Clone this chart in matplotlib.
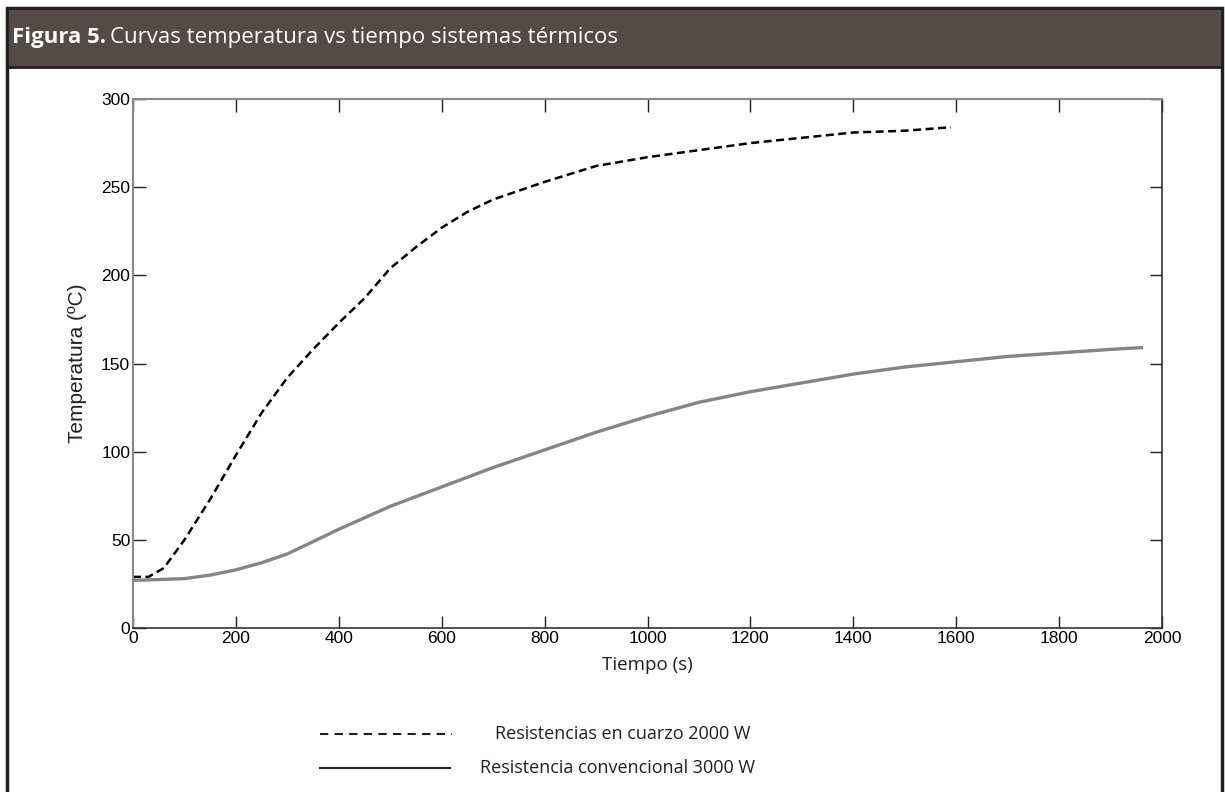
import matplotlib.pyplot as plt
from matplotlib.patches import Rectangle
from matplotlib.lines import Line2D

# curva resistencias en cuarzo (discontinua)
t_cuarzo = [0, 30, 60, 100, 150, 200, 250, 300, 350, 400, 450, 500, 550, 600, 650, 700,
            800, 900, 1000, 1100, 1200, 1300, 1400, 1500, 1590]
T_cuarzo = [29, 29, 34, 50, 73, 98, 122, 142, 158, 173, 187, 204, 216, 227, 236, 243,
            253, 262, 267, 271, 275, 278, 281, 282, 284]

# curva resistencia convencional (continua, gris)
t_conv = [0, 100, 150, 200, 250, 300, 400, 500, 600, 700, 800, 900, 1000, 1100, 1200,
          1300, 1400, 1500, 1600, 1700, 1800, 1900, 1960]
T_conv = [27, 28, 30, 33, 37, 42, 56, 69, 80, 91, 101, 111, 120, 128, 134,
          139, 144, 148, 151, 154, 156, 158, 159]

W, H = 1225, 792
fig = plt.figure(figsize=(W / 100, H / 100), dpi=100)
fig.patch.set_facecolor('white')

def fx(px):
    return px / W

def fy(py):
    return 1 - py / H

# marco y cabecera
fig.add_artist(Rectangle((fx(7), fy(H + 5)), fx(1222) - fx(7), fy(8) - fy(H + 5),
                         transform=fig.transFigure, facecolor='none',
                         edgecolor='#231f20', linewidth=2.5))
fig.add_artist(Rectangle((fx(7), fy(67)), fx(1222) - fx(7), fy(8) - fy(67),
                         transform=fig.transFigure, facecolor='#544a46',
                         edgecolor='#231f20', linewidth=2))
t1 = fig.text(fx(12), fy(37), 'Figura 5.', color='white', fontsize=16, fontweight='bold',
              family='Open Sans', va='center', ha='left')
r = fig.canvas.get_renderer()
x_end = t1.get_window_extent(r).x1
fig.text(fx(x_end + 4), fy(37), 'Curvas temperatura vs tiempo sistemas térmicos',
         color='white', fontsize=16, family='Open Sans', va='center', ha='left')

ax = fig.add_axes([fx(133), fy(628), fx(1162) - fx(133), fy(99) - fy(628)])
ax.plot(t_cuarzo, T_cuarzo, color='black', linestyle=(0, (3.2, 1.8)), linewidth=1.8)
ax.plot(t_conv, T_conv, color='#858585', linewidth=2.4)
ax.set_xlim(0, 2000)
ax.set_ylim(0, 300)
ax.set_xticks(range(0, 2001, 200))
ax.set_yticks(range(0, 301, 50))
ax.tick_params(direction='in', length=9, width=1, top=True, right=True,
               pad=2, color='#222222')
for lab in ax.get_xticklabels() + ax.get_yticklabels():
    lab.set_family('Liberation Sans')
    lab.set_fontsize(12.5)
for side in ['left', 'top']:
    ax.spines[side].set_color('#888888')
    ax.spines[side].set_linewidth(1.5)
for side in ['right', 'bottom']:
    ax.spines[side].set_color('#333333')
    ax.spines[side].set_linewidth(1.2)
ax.set_xlabel('Tiempo (s)', fontsize=13.5, family='Open Sans', labelpad=7, color='#231f20')
ax.set_ylabel('Temperatura (ºC)', fontsize=15, family='Liberation Sans', labelpad=10,
              color='#231f20')

# leyenda manual
fig.add_artist(Line2D([fx(320), fx(452)], [fy(734), fy(734)], transform=fig.transFigure,
                      color='#231f20', linestyle=(0, (4, 3)), linewidth=1.5))
fig.add_artist(Line2D([fx(320), fx(450)], [fy(768), fy(768)], transform=fig.transFigure,
                      color='#231f20', linewidth=1.5))
fig.text(fx(495), fy(734), 'Resistencias en cuarzo 2000 W', fontsize=13, family='Open Sans',
         va='center', ha='left', color='#231f20')
fig.text(fx(480), fy(768), 'Resistencia convencional 3000 W', fontsize=13, family='Open Sans',
         va='center', ha='left', color='#231f20')

fig.savefig('out.png', dpi=100)
